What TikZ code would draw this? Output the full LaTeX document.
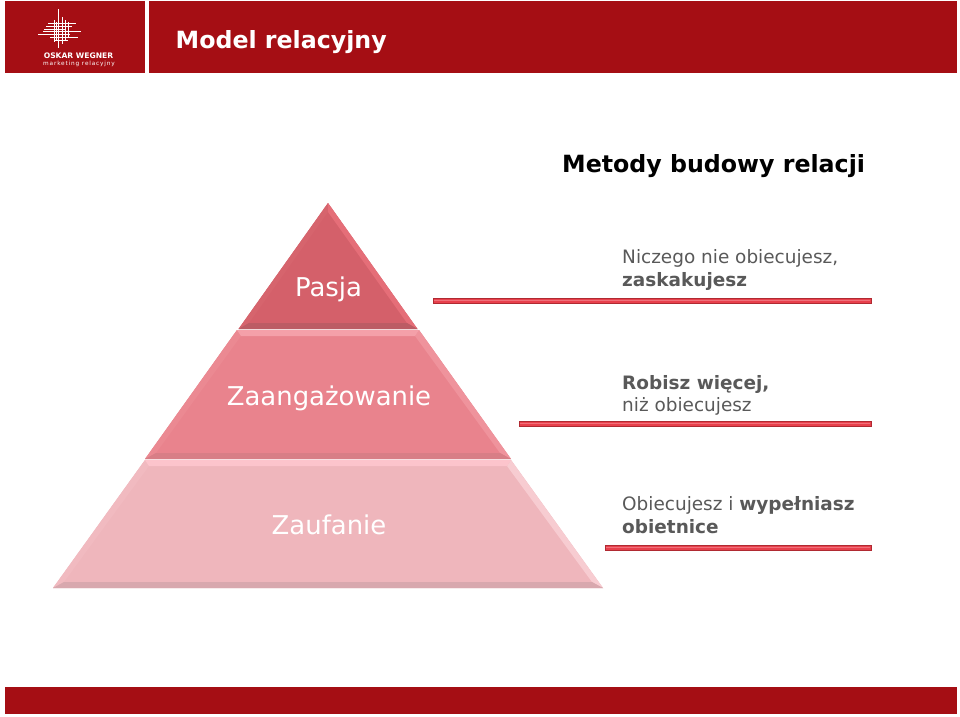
\documentclass[tikz,border=0pt]{standalone}
\usepackage{fontspec}
\setmainfont{DejaVu Sans}
\definecolor{hdr}{HTML}{A50E14}
\definecolor{ink}{HTML}{595959}
\definecolor{HLr}{HTML}{E8404C}
\definecolor{HLd}{HTML}{B02A32}
\definecolor{HLc}{HTML}{F0707A}
\definecolor{topMain}{HTML}{D4606A}
\definecolor{topLeft}{HTML}{D6646D}
\definecolor{topRight}{HTML}{E56E78}
\definecolor{topBottom}{HTML}{BC5C64}
\definecolor{midMain}{HTML}{E9838D}
\definecolor{midTop}{HTML}{F4A0A9}
\definecolor{midLeft}{HTML}{EB8992}
\definecolor{midRight}{HTML}{EF939C}
\definecolor{midBottom}{HTML}{D87E86}
\definecolor{lowMain}{HTML}{EFB6BC}
\definecolor{lowTop}{HTML}{FCC4CC}
\definecolor{lowLeft}{HTML}{F1BAC0}
\definecolor{lowRight}{HTML}{F7CCD1}
\definecolor{lowBottom}{HTML}{D8A8AE}
\tikzset{
  x=1pt,y=-1pt,
  lbl/.style={anchor=base,text=white,font=\fontsize{25.9}{26}\selectfont,inner sep=0pt},
  note/.style={anchor=base west,text=ink,font=\fontsize{18.45}{22}\selectfont,inner sep=0pt},
  notebold/.style={note,font=\bfseries\fontsize{18.45}{22}\selectfont},
  headline/.style={anchor=base west,inner sep=0pt,font=\bfseries\fontsize{23.7}{24}\selectfont},
  bar/.style={fill=hdr,draw=none},
  rulebar/.style={fill=HLr,draw=HLd,line width=1pt},
  rulemid/.style={draw=HLc,line width=1.2pt},
  logo/.style={draw=white,line width=1pt},
}
% #1 half-width top, #2 half-width bottom, #3 ytop, #4 ybot, #5 main, #6 top, #7 left, #8 right, #9 bottom
\newcommand{\layer}[9]{%
  \fill[#5] (328-#1,#3) -- (328+#1,#3) -- (328+#2,#4) -- (328-#2,#4) -- cycle;
  \fill[#7] (328-#1,#3) -- (328-#1+4,#3+6) -- (328-#2+11,#4-6) -- (328-#2,#4) -- cycle;
  \fill[#8] (328+#1,#3) -- (328+#1-4,#3+6) -- (328+#2-11,#4-6) -- (328+#2,#4) -- cycle;
  \fill[#6] (328-#1,#3) -- (328+#1,#3) -- (328+#1-4,#3+6) -- (328-#1+4,#3+6) -- cycle;
  \fill[#9] (328-#2,#4) -- (328-#2+11,#4-6) -- (328+#2-11,#4-6) -- (328+#2,#4) -- cycle;
}
\newcommand{\rulebar}[3]{%
  \fill[rulebar] (#1,#3) rectangle (871,#3+5);
  \draw[rulemid] (#1+1,#3+2.5) -- (#2,#3+2.5);
}
\begin{document}
\begin{tikzpicture}
\useasboundingbox (0,0) rectangle (960,716);
\fill[white] (0,0) rectangle (960,716);
% header and footer
\fill[bar] (5,1) rectangle (145,73);
\fill[bar] (149,1) rectangle (957,73);
\fill[bar] (5,687) rectangle (957,714);
% logo
\foreach \xa/\ya/\xb/\yb in {
  58.5/9/58.5/48, 54/20/54/42, 62/17/62/44, 65/20/65/41, 68/22/68/37, 56.5/22/56.5/40,
  43/31/81/31, 38/34/70/34, 46/26/72/26, 48/23/76/23, 50/37/78/37, 54/40/68/40, 44/29/66/29}
  \draw[logo] (\xa,\ya) -- (\xb,\yb);
\node[anchor=base,inner sep=0pt,text=white,font=\bfseries\fontsize{7.6}{9}\selectfont] (brand) at (78.5,58.5) {OSKAR WEGNER};
\node[anchor=base,inner sep=0pt,text=white,font=\fontsize{5.8}{6}\selectfont] (brandsub) at (79,65) {\addfontfeature{LetterSpace=14}marketing relacyjny};
% titles
\node[headline,text=white] (title) at (175.5,48) {Model relacyjny};
\node[headline,text=black] (subtitle) at (562,172) {Metody budowy relacji};
% pyramid: top layer (triangle)
\fill[topMain] (328,203) -- (417.5,329) -- (238.5,329) -- cycle;
\fill[topLeft] (328,203) -- (328,212) -- (249,323) -- (238.5,329) -- cycle;
\fill[topRight] (328,203) -- (328,212) -- (407,323) -- (417.5,329) -- cycle;
\fill[topBottom] (238.5,329) -- (249,323) -- (407,323) -- (417.5,329) -- cycle;
% middle and bottom layers
\layer{91}{183}{330}{459}{midMain}{midTop}{midLeft}{midRight}{midBottom}
\layer{183}{275}{460}{588}{lowMain}{lowTop}{lowLeft}{lowRight}{lowBottom}
% layer labels
\node[lbl] (pasja) at (328.5,296) {Pasja};
\node[lbl] (zaang) at (329,405) {Zaangażowanie};
\node[lbl] (zauf) at (329,534) {Zaufanie};
% rules
\rulebar{433}{870}{298}
\rulebar{519}{870}{421}
\rulebar{605}{870}{545}
% notes
\node[note] (n1a) at (622,263) {Niczego nie obiecujesz,};
\node[notebold] (n1b) at (622,286) {zaskakujesz};
\node[notebold] (n2a) at (622,389) {Robisz więcej,};
\node[note] (n2b) at (622,411) {niż obiecujesz};
\node[note] (n3a) at (622,510.5) {Obiecujesz i \textbf{wypełniasz}};
\node[notebold] (n3b) at (622,533) {obietnice};
\end{tikzpicture}
\end{document}
